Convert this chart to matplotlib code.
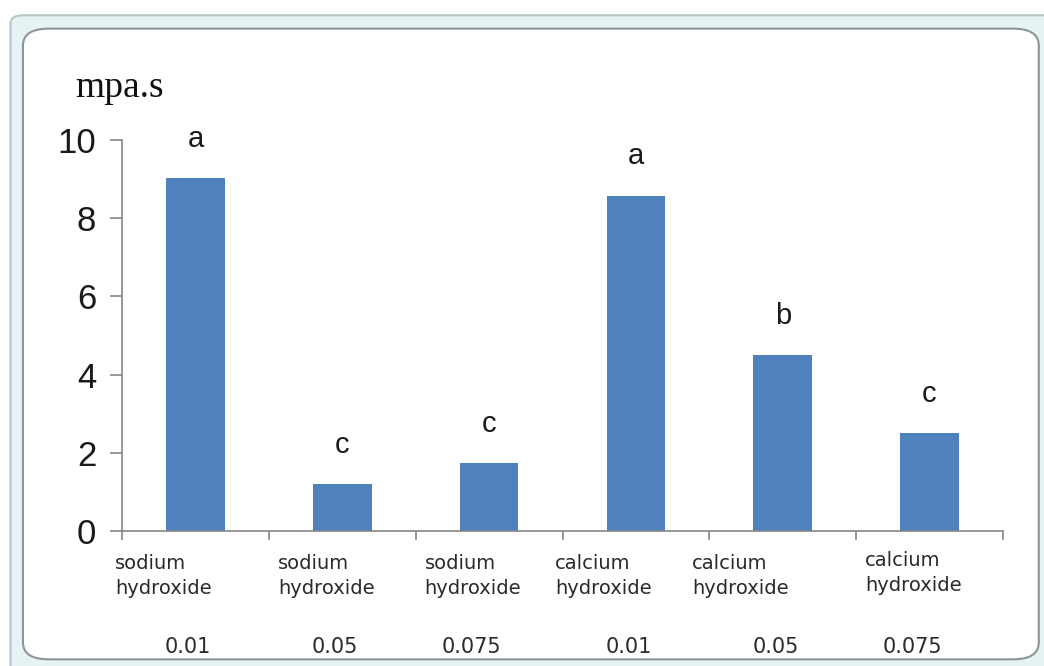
import matplotlib.pyplot as plt
from matplotlib.patches import FancyBboxPatch

# data
groups = ["sodium\nhydroxide", "sodium\nhydroxide", "sodium\nhydroxide",
          "calcium\nhydroxide", "calcium\nhydroxide", "calcium\nhydroxide"]
concentrations = ["0.01", "0.05", "0.075", "0.01", "0.05", "0.075"]
viscosity = [9.02, 1.2, 1.74, 8.58, 4.5, 2.5]
letters = ["a", "c", "c", "a", "b", "c"]

# layout tweaks (label placement in category units)
group_label_dx = [-0.22, -0.11, -0.11, -0.22, -0.29, -0.11]
group_label_dy = [0, 0, 0, 0, 0, 0.08]
conc_label_dx = [-0.05, -0.05, -0.12, -0.05, -0.05, -0.12]

fig = plt.figure(figsize=(10.44, 6.66), dpi=100)

# window-like frame
outer = FancyBboxPatch((0.010, -0.05), 1.1, 1.027, boxstyle="round,pad=0,rounding_size=0.012",
                       transform=fig.transFigure, facecolor="#e6f3f5", edgecolor="#b8c4c6",
                       lw=1.5, zorder=-2)
inner = FancyBboxPatch((0.022, 0.01), 0.973, 0.947, boxstyle="round,pad=0,rounding_size=0.025",
                       transform=fig.transFigure, facecolor="white", edgecolor="#8c9698",
                       lw=1.5, zorder=-1)
fig.patches.extend([outer, inner])

ax = fig.add_axes([0.1169, 0.2027, 0.8438, 0.5871])
ax.patch.set_alpha(0)
x = list(range(len(viscosity)))
ax.bar(x, viscosity, width=0.4, color="#4F81BD")
ax.set_xlim(-0.5, 5.5)
ax.set_ylim(0, 10)
ax.set_yticks([0, 2, 4, 6, 8, 10])
ax.set_xticks([i - 0.5 for i in range(7)])
ax.set_xticklabels([])
for s in ["top", "right"]:
    ax.spines[s].set_visible(False)
for s in ["left", "bottom"]:
    ax.spines[s].set_color("#868686")
    ax.spines[s].set_linewidth(1.2)
ax.tick_params(axis="y", length=8.6, width=1.2, color="#868686", labelsize=25,
               pad=10, labelcolor="#1a1a1a")
ax.tick_params(axis="x", length=6.5, width=1.2, color="#868686")
for lab in ax.get_yticklabels():
    lab.set_fontfamily("Liberation Sans")

for i, (v, l) in enumerate(zip(viscosity, letters)):
    ax.text(i, v + 0.65, l, ha="center", va="bottom", fontsize=21,
            family="Liberation Sans", color="#1a1a1a")

for i, g in enumerate(groups):
    ax.text(i + group_label_dx[i], -0.6 + group_label_dy[i], g, ha="center", va="top",
            fontsize=14, multialignment="left", linespacing=1.4, color="#2a2a2a",
            family="DejaVu Sans")
for i, c in enumerate(concentrations):
    ax.text(i + conc_label_dx[i], -2.7, c, ha="center", va="top", fontsize=15,
            color="#2a2a2a", family="DejaVu Sans")

fig.text(0.072, 0.855, "mpa.s", fontsize=27, family="Liberation Serif", color="#111111")

fig.savefig("out.png", dpi=100)
